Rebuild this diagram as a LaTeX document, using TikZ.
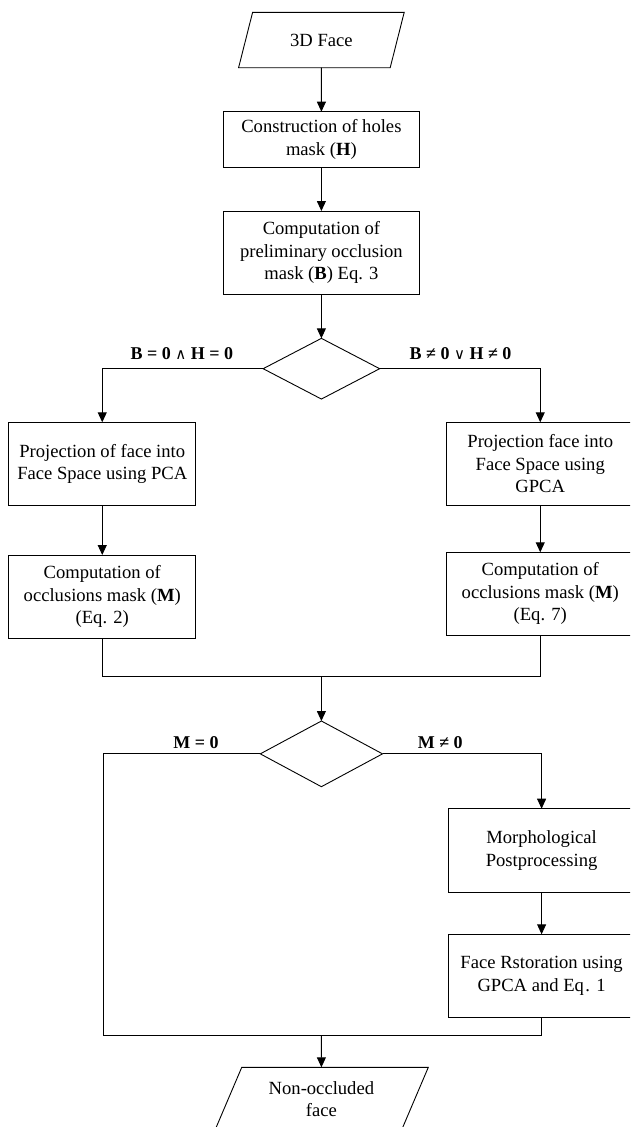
\documentclass[tikz,border=0pt]{standalone}
\usepackage{fontspec}
\setmainfont{Liberation Serif}
\newfontfamily\symf{DejaVu Serif}
\usetikzlibrary{shapes.geometric,arrows.meta}
\begin{document}
\begin{tikzpicture}[x=1pt,y=-1pt,
  every node/.style={font=\fontsize{18.6}{22.3}\selectfont},
  box/.style={draw, line width=0.9pt, rectangle, inner sep=0pt, outer sep=0pt, align=center},
  io/.style={draw, line width=0.9pt, trapezium, trapezium left angle=63, trapezium right angle=117,
    trapezium stretches=true, inner sep=0pt, outer sep=0pt, align=center},
  dec/.style={draw, line width=0.9pt, diamond, inner sep=0pt, outer sep=0pt},
  lbl/.style={anchor=base, inner sep=0pt, font=\fontsize{18}{22}\selectfont\bfseries},
  arr/.style={line width=0.9pt, -{Triangle[length=10pt,width=9pt]}},
  ln/.style={line width=0.9pt}]
\useasboundingbox (0,0) rectangle (630,1127);
\clip (0,0) rectangle (630,1127);
% nodes
\node[io, minimum width=166.8pt, minimum height=55.4pt] (in) at (321.4,40) {3D Face};
\node[box, minimum width=195.2pt, minimum height=55.3pt] (b1) at (321.4,139.35) {Construction of holes\\mask (\textbf{H})};
\node[box, minimum width=195.2pt, minimum height=83.3pt] (b2) at (321.4,252.65) {Computation of\\preliminary occlusion\\mask (\textbf{B}) Eq. 3};
\node[dec, minimum width=116.5pt, minimum height=60.7pt] (d1) at (321.4,368.7) {};
\node[box, minimum width=186.9pt, minimum height=83pt] (L1) at (102.25,463.8) {Projection of face into\\Face Space using PCA};
\node[box, minimum width=186.9pt, minimum height=83.3pt] (L2) at (102.25,596.65) {Computation of\\occlusions mask (\textbf{M})\\(Eq. 2)};
\node[box, minimum width=186.9pt, minimum height=83pt] (R1) at (540.25,463.8) {Projection face into\\Face Space using\\GPCA};
\node[box, minimum width=186.9pt, minimum height=82.7pt] (R2) at (540.25,593.65) {Computation of\\occlusions mask (\textbf{M})\\(Eq. 7)};
\node[dec, minimum width=122.2pt, minimum height=65.7pt] (d2) at (321.4,753.85) {};
\node[box, minimum width=186.9pt, minimum height=83.6pt] (R3) at (541.6,850.5) {Morphological\\Postprocessing};
\node[box, minimum width=186.9pt, minimum height=83pt] (R4) at (541.6,975.8) {Face Rstoration using\\GPCA and Eq\kern1.5pt. 1};
\node[io, minimum width=214pt, minimum height=64pt] (out) at (321.4,1099.3) {Non-occluded\\face};
% labels
\node[lbl] (l1) at (181.8,359.3) {B = 0 {\symf\mdseries\fontsize{15}{18}\selectfont ∧} H = 0};
\node[lbl] (l2) at (460.6,359.3) {B ≠ 0 {\symf\mdseries\fontsize{15}{18}\selectfont ∨} H ≠ 0};
\node[lbl] (l3) at (195.9,748.3) {M = 0};
\node[lbl] (l4) at (440.3,748.3) {M ≠ 0};
% helper coordinates
\coordinate (m1) at (321.4,676.7);
\coordinate (c2) at (103.7,1035.7);
\coordinate (m2) at (321.4,1035.7);
% connectors
\draw[arr] (in) -- (b1);
\draw[arr] (b1) -- (b2);
\draw[arr] (b2) -- (d1);
\draw[arr] (d1.west) -| (L1.north);
\draw[arr] (d1.east) -| (R1.north);
\draw[arr] (L1) -- (L2);
\draw[arr] (R1) -- (R2);
\draw[ln] (L2.south) |- (m1) -| (R2.south);
\draw[arr] (m1) -- (d2);
\draw[arr] (d2.east) -| (R3.north);
\draw[arr] (R3) -- (R4);
\draw[ln] (d2.west) -| (c2) -- (m2);
\draw[ln] (R4.south) |- (m2);
\draw[arr] (m2) -- (out);
\end{tikzpicture}
\end{document}
